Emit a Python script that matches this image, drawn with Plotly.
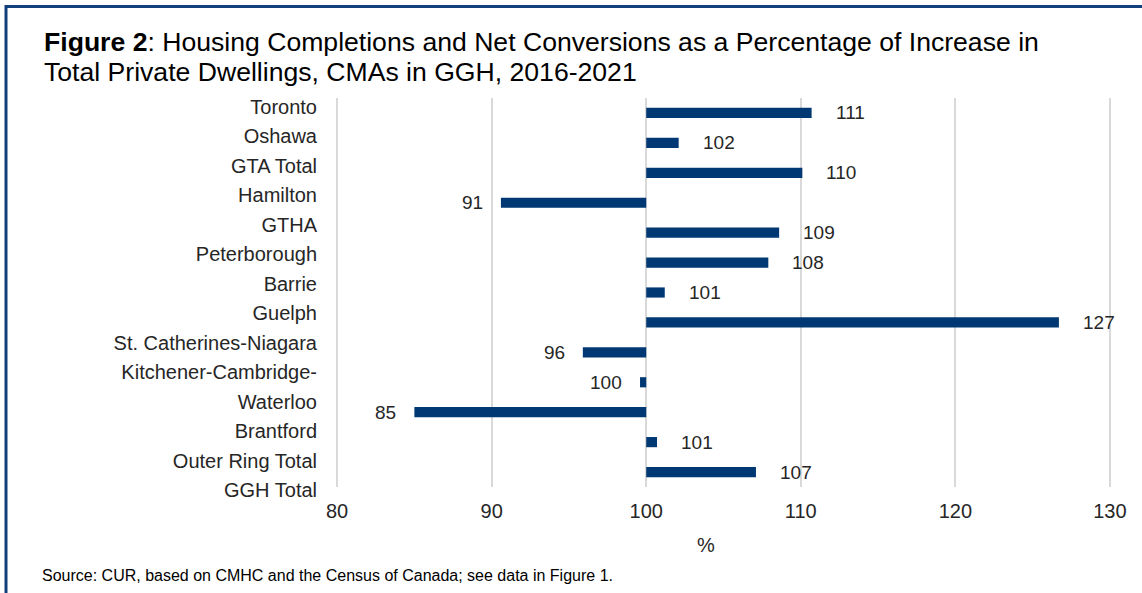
import plotly.graph_objects as go

# ---- data ----
categories = ["Toronto", "Oshawa", "GTA Total", "Hamilton", "GTHA", "Peterborough",
              "Barrie", "Guelph", "St. Catherines-Niagara", "Kitchener-Cambridge-Waterloo",
              "Brantford", "Outer Ring Total", "GGH Total"]
values = [110.7, 102.1, 110.1, 90.6, 108.6, 107.9, 101.2, 126.7, 95.9, 99.6, 85.0, 100.7, 107.1]
# category tick labels as they are laid out in the source (wrapped label spans two lines)
label_lines = ["Toronto", "Oshawa", "GTA Total", "Hamilton", "GTHA", "Peterborough", "Barrie",
               "Guelph", "St. Catherines-Niagara", "Kitchener-Cambridge-", "Waterloo",
               "Brantford", "Outer Ring Total", "GGH Total"]
x_ticks = [80, 90, 100, 110, 120, 130]
baseline = 100

# ---- layout geometry (pixels) ----
W, H = 1142, 593
L, R = 336, 1111          # plot area horizontal extent
PT, PB = 92, 497          # paper area used for axes (vertical)
GT, GB = 98, 487          # gridline / bar region (vertical)
pad_x = 0.07              # tiny range padding so edge gridlines are drawn
pw, ph = R - L, PB - PT


def px_x(x):
    return (x - L) / pw


def px_y(y):
    return 1 - (y - PT) / ph


BAR = "#003873"
TXT = "#262626"
FONT = "Liberation Sans, Arial, sans-serif"

fig = go.Figure()
fig.add_trace(go.Bar(
    y=categories,
    x=[v - baseline for v in values],
    base=baseline,
    orientation="h",
    marker=dict(color=BAR, line=dict(width=0)),
    width=0.34,
    hoverinfo="skip",
    showlegend=False,
))
# carrier trace for the label axis
fig.add_trace(go.Scatter(x=[None], y=[None], xaxis="x2", yaxis="y2",
                         showlegend=False, hoverinfo="skip"))

annotations = []
for c, v in zip(categories, values):
    pos = v >= baseline
    annotations.append(dict(
        x=v, y=c, xref="x", yref="y", text=f"{v:.0f}", showarrow=False,
        xanchor="left" if pos else "right", xshift=22 if pos else -16,
        font=dict(size=19, color=TXT, family=FONT),
    ))

# title lines
annotations.append(dict(
    x=px_x(42), y=px_y(42), xref="paper", yref="paper", xanchor="left", yanchor="middle",
    text="<b>Figure 2</b>: Housing Completions and Net Conversions as a Percentage of Increase in",
    showarrow=False, font=dict(size=26.6, color="#000000", family=FONT)))
annotations.append(dict(
    x=px_x(42), y=px_y(72), xref="paper", yref="paper", xanchor="left", yanchor="middle",
    text="Total Private Dwellings, CMAs in GGH, 2016-2021",
    showarrow=False, font=dict(size=26.6, color="#000000", family=FONT)))
# axis title
annotations.append(dict(
    x=px_x(706), y=px_y(545), xref="paper", yref="paper", xanchor="center", yanchor="middle",
    text="%", showarrow=False, font=dict(size=20, color=TXT, family=FONT)))
# source
annotations.append(dict(
    x=px_x(40), y=px_y(575), xref="paper", yref="paper", xanchor="left", yanchor="middle",
    text="Source: CUR, based on CMHC and the Census of Canada; see data in Figure 1.",
    showarrow=False, font=dict(size=16, color="#000000", family=FONT)))

n_lines = len(label_lines)
line_top, line_bottom = 107, 490
step = (line_bottom - line_top) / (n_lines - 1)

fig.update_layout(
    width=W, height=H,
    margin=dict(l=L, r=W - R, t=PT, b=H - PB, pad=0),
    paper_bgcolor="white", plot_bgcolor="rgba(0,0,0,0)",
    font=dict(family=FONT, color=TXT, size=20),
    xaxis=dict(range=[x_ticks[0] - pad_x, x_ticks[-1] + pad_x], tickvals=x_ticks,
               showgrid=True, gridcolor="#d9d9d9", gridwidth=2, zeroline=False,
               showline=False, ticks="", ticklabelstandoff=10,
               tickfont=dict(size=20, color=TXT), anchor="y"),
    yaxis=dict(domain=[(PB - GB) / ph, (PB - GT) / ph],
               categoryorder="array", categoryarray=categories,
               range=[len(categories) - 0.5, -0.5],
               showticklabels=False, showgrid=False, zeroline=False, showline=False),
    xaxis2=dict(domain=[0, 1], anchor="y2", range=[0, 1], showgrid=False,
                showticklabels=False, zeroline=False, showline=False, ticks=""),
    yaxis2=dict(domain=[0, 1], anchor="x2", side="left",
                range=[(PB - line_top) / step, (PT - line_top) / step],
                tickvals=list(range(n_lines)), ticktext=label_lines,
                showgrid=False, zeroline=False, showline=False, ticks="",
                ticklabelstandoff=18, tickfont=dict(size=20, color=TXT)),
    annotations=annotations,
    shapes=[dict(type="rect", xref="paper", yref="paper",
                 x0=px_x(6), x1=px_x(W + 20), y0=px_y(H + 20), y1=px_y(6.5),
                 line=dict(color="#123F7A", width=3), fillcolor="rgba(0,0,0,0)")],
)

fig.write_html("out.html")
